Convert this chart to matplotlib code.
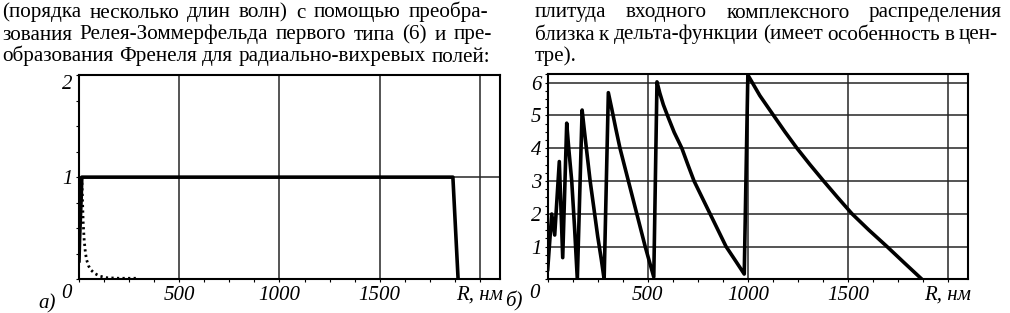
import matplotlib.pyplot as plt
from matplotlib.ticker import MultipleLocator
from matplotlib.transforms import IdentityTransform

plt.rcParams['font.family'] = ['Liberation Serif', 'DejaVu Serif']

# page text above the plots
left_lines = [
    "(порядка несколько длин волн) с помощью преобра-",
    "зования Релея-Зоммерфельда первого типа (6) и пре-",
    "образования Френеля для радиально-вихревых полей:",
]
right_lines = [
    "плитуда входного комплексного распределения",
    "близка к дельта-функции (имеет особенность в цен-",
    "тре).",
]

# plot а): input amplitude (solid) and result (dotted)
a_solid_x = [0, 3, 7, 11, 14, 1865, 1891]
a_solid_y = [0.18, 0.4, 0.6, 0.8, 1.0, 1.0, 0.0]
a_dot_x = [14, 17, 21, 26, 32, 38, 48, 60, 80, 105, 140, 200, 300]
a_dot_y = [1.0, 0.8, 0.55, 0.38, 0.26, 0.19, 0.13, 0.09, 0.055, 0.03, 0.015, 0.01, 0.01]

# plot б): phase
b_x = [0, 20, 35, 58, 75,
       95, 105, 120, 134, 148,
       172, 182, 195, 212, 230, 250, 268, 282,
       303, 320, 340, 361, 382, 403, 424, 445, 466, 487, 510, 530,
       546, 560, 578, 598, 632, 670, 700, 731, 771, 811, 851, 891, 940, 982,
       1000, 1060, 1128, 1185, 1245, 1310, 1378, 1448, 1520, 1605, 1695, 1782, 1870]
b_y = [0.3, 1.99, 1.35, 3.59, 0.66,
       4.76, 4.0, 3.0, 1.6, 0.0,
       5.16, 4.6, 3.9, 3.0, 2.2, 1.3, 0.6, 0.0,
       5.69, 5.2, 4.6, 4.0, 3.5, 3.0, 2.5, 2.0, 1.5, 1.0, 0.5, 0.07,
       6.02, 5.68, 5.32, 5.0, 4.48, 4.0, 3.5, 3.0, 2.5, 2.0, 1.5, 1.0, 0.55, 0.16,
       6.23, 5.6, 5.0, 4.5, 4.0, 3.5, 3.0, 2.5, 2.0, 1.5, 1.0, 0.5, 0.0]

x_ticks = [500, 1000, 1500, 2000]
x_labels = ['500', '1000', '1500', 'R, нм']

W, H = 1010, 313
fig = plt.figure(figsize=(W / 100, H / 100), dpi=100)
renderer = fig.canvas.get_renderer()


def put_line(text, x0, x1, base, justify=True):
    # justified line of body text, placed word by word in pixels
    words = text.split()
    items = [fig.text(0, H - base, w, fontsize=15.2, va='baseline',
                      transform=IdentityTransform()) for w in words]
    widths = [t.get_window_extent(renderer).width for t in items]
    if justify and len(words) > 1:
        gap = (x1 - x0 - sum(widths)) / (len(words) - 1)
    else:
        gap = 5
    x = x0
    for t, w in zip(items, widths):
        t.set_x(x)
        x += w + gap


for i, line in enumerate(left_lines):
    put_line(line, 2, [488, 492, 490][i], 17.5 + 22 * i)
for i, line in enumerate(right_lines):
    put_line(line, 535, [1002, 998, 0][i], 17.5 + 22 * i, justify=(i < 2))


def style(ax, ymax, yticks):
    ax.set_xlim(0, 2100)
    ax.set_ylim(0, ymax)
    ax.set_xticks(x_ticks, x_labels, fontstyle='italic', fontsize=15)
    ax.set_yticks(yticks, [str(v) for v in yticks], fontstyle='italic', fontsize=15)
    ax.xaxis.set_minor_locator(MultipleLocator(125))
    ax.yaxis.set_minor_locator(MultipleLocator(0.25))
    ax.tick_params(which='both', direction='out', length=2.5, width=0.8)
    ax.tick_params(axis='x', pad=2)
    ax.tick_params(axis='y', pad=2)
    ax.grid(True, which='major', color='0.15', lw=1.1)
    ax.set_axisbelow(True)
    for s in ax.spines.values():
        s.set_linewidth(1.5)
    ax.annotate('0', xy=(0, 0), xycoords='axes fraction', xytext=(-13, -19),
                textcoords='offset pixels', ha='center', va='baseline',
                fontstyle='italic', fontsize=15)


ax1 = fig.add_axes([79 / W, (H - 279.3) / H, (500 - 79) / W, (279.3 - 75) / H])
style(ax1, 2.0, [1, 2])
ax1.get_yticklabels()[-1].set_va('top')
ax1.plot(a_dot_x, a_dot_y, color='black', lw=2.0, ls=(0, (0.8, 1.2)))
ax1.plot(a_solid_x, a_solid_y, color='black', lw=2.6)
ax1.annotate('а)', xy=(0, 0), xycoords='axes fraction', xytext=(-32, -29),
             textcoords='offset pixels', ha='center', va='baseline',
             fontstyle='italic', fontsize=15)

ax2 = fig.add_axes([547.7 / W, (H - 279.3) / H, (968 - 547.7) / W, (279.3 - 74.3) / H])
style(ax2, 6.25, [1, 2, 3, 4, 5, 6])
ax2.plot(b_x, b_y, color='black', lw=2.6)
ax2.annotate('б)', xy=(0, 0), xycoords='axes fraction', xytext=(-34, -27),
             textcoords='offset pixels', ha='center', va='baseline',
             fontstyle='italic', fontsize=15)

fig.savefig('out.png', dpi=100)
